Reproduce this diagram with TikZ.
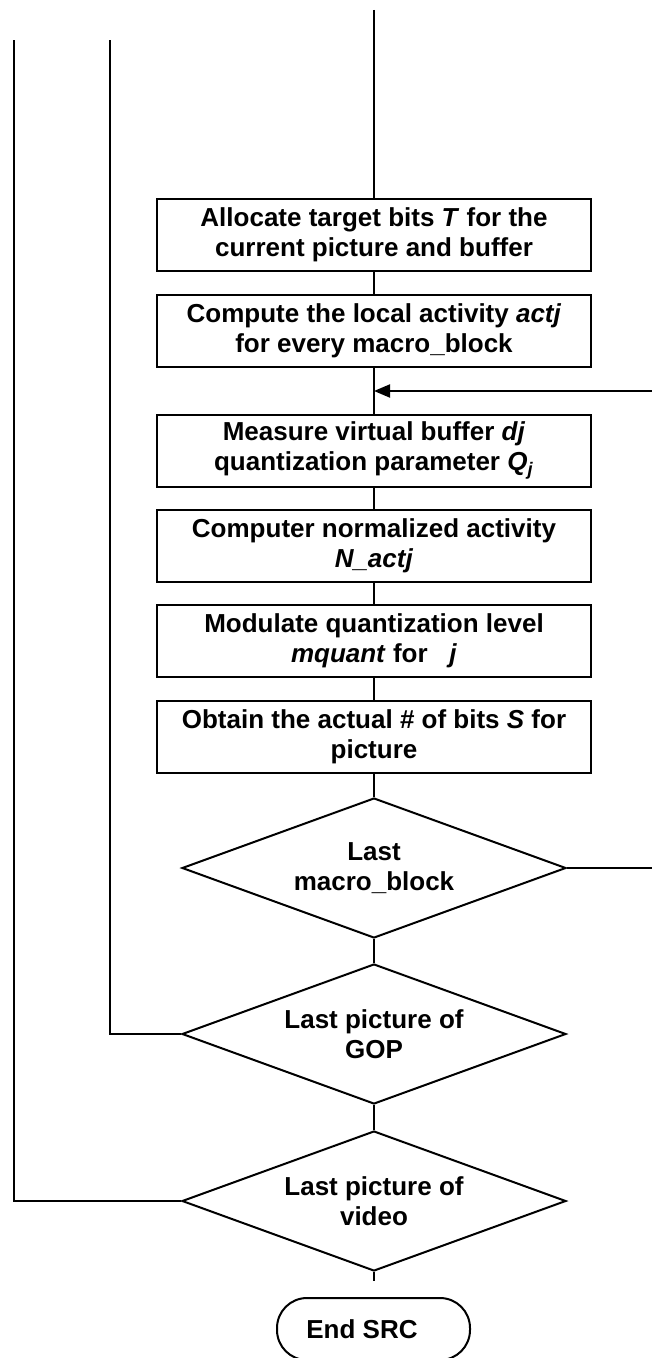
\documentclass[tikz,border=0pt]{standalone}
\usepackage{fontspec}
\setmainfont{Liberation Sans}
\usetikzlibrary{shapes.geometric,arrows.meta}

\tikzset{
  x=0.5pt, y=-0.5pt,
  txt/.style={font=\fontsize{13pt}{15pt}\selectfont\bfseries, align=center},
  flow/.style={line width=1pt, draw=black},
  stepbox/.style={txt, draw, line width=1pt, rectangle, minimum width=217pt,
    minimum height=36pt, inner sep=0pt},
  decide/.style={txt, draw, line width=1pt, diamond, aspect=2.74,
    minimum width=192pt, minimum height=70pt, inner sep=0pt},
  terminal/.style={txt, draw, line width=1pt, rectangle, rounded corners=15pt,
    minimum width=96.5pt, minimum height=31pt, inner sep=0pt},
  tip/.style={-{Triangle[length=8pt,width=6.5pt]}}
}

\begin{document}
\begin{tikzpicture}
\useasboundingbox (0,0) rectangle (652,1358);
\clip (0,0) rectangle (652,1358);

% incoming lines from above
\coordinate (top) at (374,10);
\coordinate (gopup) at (110,40);
\coordinate (vidup) at (13.5,40);

% processing steps
\node[stepbox] (b1) at (374,235) {Allocate target bits \textit{T} for the\\current picture and buffer};
\node[stepbox] (b2) at (374,331) {Compute the local activity \textit{actj}\\for every macro\_block};
\coordinate (mbjoin) at (374,391);
\coordinate (loopin) at (670,391);
\node[stepbox] (b3) at (374,450.5) {Measure virtual buffer \textit{dj}\\quantization parameter \textit{Q}\textsubscript{\textit{j}}};
\node[stepbox] (b4) at (374,545.5) {Computer normalized activity\\\textit{N\_actj}};
\node[stepbox] (b5) at (374,640.5) {Modulate quantization level\\\textit{mquant} for\ \ \ \textit{j}};
\node[stepbox] (b6) at (374,737) {Obtain the actual \# of bits \textit{S} for\\picture};

% decisions
\node[decide] (d1) at (374,868) {Last\\macro\_block};
\coordinate (mbexit) at (670,868);
\node[decide] (d2) at (374,1034) {Last picture of\\GOP};
\node[decide] (d3) at (374,1201) {Last picture of\\video};
\coordinate (tail) at (374,1281);

% end
\node[terminal] (end) at (373.5,1329) {End SRC\hspace{11.5pt}};

% connectors
\draw[flow] (top) -- (b1);
\draw[flow] (b1) -- (b2);
\draw[flow] (b2) -- (b3);
\draw[flow, tip] (loopin) -- (mbjoin);
\draw[flow] (b3) -- (b4);
\draw[flow] (b4) -- (b5);
\draw[flow] (b5) -- (b6);
\draw[flow] (b6) -- (d1);
\draw[flow] (d1) -- (d2);
\draw[flow] (d2) -- (d3);
\draw[flow] (d3.south) -- (tail);
\draw[flow] (d1.east) -- (mbexit);
\draw[flow] (d2.west) -| (gopup);
\draw[flow] (d3.west) -| (vidup);
\end{tikzpicture}
\end{document}
